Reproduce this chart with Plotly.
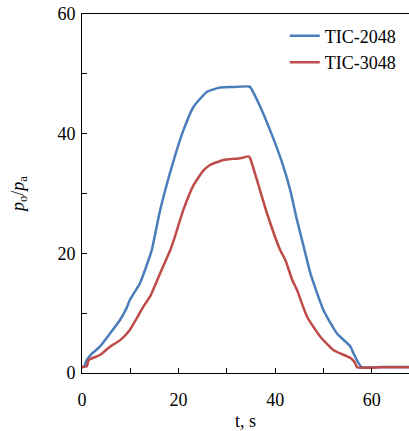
import plotly.graph_objects as go

# TIC-2048 (blue)
t_2048 = [0.0, 0.5, 1.0, 2.0, 3.7, 5.8, 7.9, 9.2, 9.9, 12.0, 13.3, 14.4, 16.2, 19.0, 21.0,
          23.1, 25.9, 28.6, 31.5, 34.5, 34.8, 36.9, 39.7, 41.7, 43.1, 44.5, 45.9, 47.3,
          50.0, 52.8, 55.6, 56.2, 57.3, 57.9, 62.0, 68.0]
v_2048 = [0.9, 1.2, 2.2, 3.2, 4.4, 6.6, 8.9, 10.8, 12.2, 15.0, 17.8, 20.4, 27.3, 35.6, 40.6,
          44.5, 47.0, 47.7, 47.8, 47.9, 47.8, 44.5, 39.0, 34.5, 30.6, 25.6, 21.1, 16.6,
          10.5, 6.6, 4.4, 3.3, 1.6, 1.0, 1.0, 1.0]

# TIC-3048 (red)
t_3048 = [0.0, 1.0, 1.4, 3.7, 5.8, 7.9, 9.9, 11.3, 12.7, 14.1, 16.2, 18.3, 19.0, 21.0,
          23.1, 25.2, 26.6, 29.3, 32.8, 34.5, 34.8, 36.2, 38.3, 41.0, 42.1, 43.5, 44.5,
          46.6, 49.3, 52.1, 55.6, 56.6, 56.9, 62.0, 68.0]
v_3048 = [1.0, 1.1, 2.2, 3.0, 4.4, 5.5, 7.2, 9.1, 11.1, 12.8, 16.7, 20.6, 22.2, 27.3,
          31.4, 33.9, 34.8, 35.6, 35.9, 36.2, 35.9, 32.3, 26.7, 20.6, 18.9, 15.6, 13.9,
          9.4, 6.1, 3.8, 2.5, 1.6, 0.95, 0.95, 0.95]

font = "Liberation Serif"

fig = go.Figure()
fig.add_trace(go.Scatter(x=t_2048, y=v_2048, mode='lines', name='TIC-2048',
                         line=dict(color='#4A7EBB', width=2.5, shape='spline', smoothing=0.5)))
fig.add_trace(go.Scatter(x=t_3048, y=v_3048, mode='lines', name='TIC-3048',
                         line=dict(color='#BE4B48', width=2.5, shape='spline', smoothing=0.5)))

axis_common = dict(
    showgrid=False, zeroline=False, automargin=False,
    showline=True, linecolor='black', linewidth=1,
    ticks='inside', ticklen=5, tickcolor='black',
    tickfont=dict(family=font, size=18, color='black'),
)

fig.update_layout(
    width=409, height=431,
    margin=dict(l=82, r=0, t=14, b=58),
    plot_bgcolor='white', paper_bgcolor='white',
    font=dict(family=font, color='black'),
    xaxis=dict(range=[0, 67.7], dtick=20, mirror=True, ticklabelstandoff=10,
               minor=dict(dtick=10, ticks='inside', ticklen=5, tickcolor='black'),
               title=dict(text='t, s', font=dict(family=font, size=18), standoff=6),
               **axis_common),
    yaxis=dict(range=[0, 60], dtick=20, ticklabelstandoff=2,
               minor=dict(dtick=10, ticks='inside', ticklen=5, tickcolor='black'),
               title=dict(text='<i>p</i><sub>o</sub>/<i>p</i><sub>a</sub>',
                          font=dict(family=font, size=18), standoff=28),
               **axis_common),
    legend=dict(x=0.62, xanchor='left', y=0.99, yanchor='top',
                bgcolor='rgba(0,0,0,0)', font=dict(family=font, size=18),
                tracegroupgap=0),
)

# drop the default page margin so the figure sits at the window's corner
fig.write_html("out.html", config={'displayModeBar': False},
               post_script="document.body.style.margin='0px';")
